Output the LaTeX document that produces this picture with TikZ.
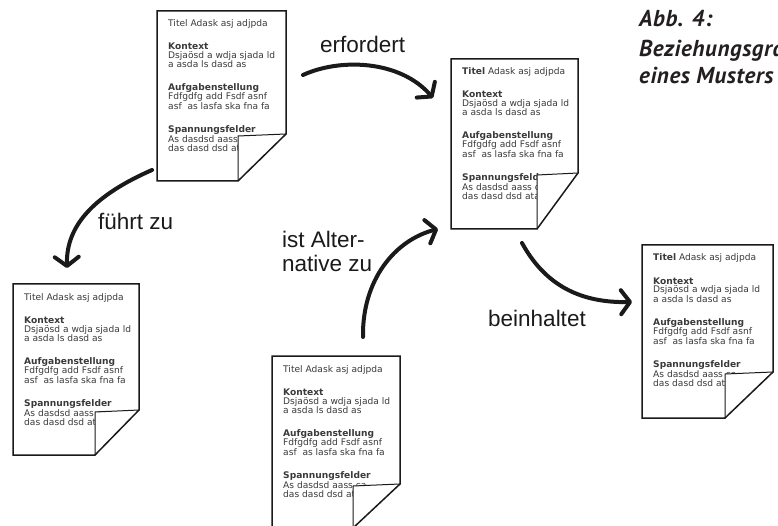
\documentclass[tikz,border=0pt]{standalone}
\usepackage{fontspec}
\setmainfont{Liberation Sans}
\newfontfamily\docfont{DejaVu Sans}
\newfontfamily\capfont[LetterSpace=2.5]{PT Sans}
\usetikzlibrary{arrows.meta}

\definecolor{ink}{HTML}{1A1A1A}
\definecolor{doctextgray}{HTML}{3A3A3A}
\definecolor{captiongray}{HTML}{231F20}

\tikzset{
  docarea/.style={rectangle, inner sep=0pt, outer sep=0pt},
  docline/.style={anchor=base west, inner sep=0pt, text=doctextgray,
    font=\docfont\fontsize{9.1}{9}\selectfont},
  dochead/.style={docline, font=\docfont\bfseries\fontsize{9.1}{9}\selectfont},
  pagefill/.style={fill=white},
  pageedge/.style={draw=ink, line width=1.5pt, line join=miter},
  flapedge/.style={draw=ink, line width=1pt, line cap=round},
  relation/.style={draw=ink, line width=4pt, line cap=round,
    -{Straight Barb[length=9pt,width=24pt,line cap=round,line join=round]}},
  rellabel/.style={anchor=base west, inner sep=0pt, text=ink,
    font=\fontsize{22.5}{24}\selectfont},
  captionline/.style={anchor=base west, inner sep=0pt, text=captiongray,
    font=\capfont\bfseries\itshape\fontsize{23}{28}\selectfont},
}

% A pattern sheet with a dog-eared lower right corner.
% #1 name, #2/#3 top left corner, #4/#5 width/height, #6/#7 fold size, #8 title word
\newcommand{\pagedoc}[8]{%
  \node[docarea, minimum width=#4pt, minimum height=#5pt, anchor=north west] (#1) at (#2,#3) {};
  \coordinate (#1-fb) at ([yshift=#7pt]#1.south east);
  \coordinate (#1-fc) at ([xshift=-#6pt]#1.south east);
  \coordinate (#1-fa) at ([xshift=-#6pt, yshift=#7pt-2pt]#1.south east);
  \path[pagefill] (#1.north west) -- (#1.north east) -- (#1-fb) -- (#1-fc) -- (#1.south west) -- cycle;
  \node[docline] (#1-l1)  at ([shift={(11,16)}]#1.north west)  {#8 Adask asj adjpda};
  \node[dochead] (#1-l2)  at ([shift={(11,39)}]#1.north west)  {Kontext};
  \node[docline] (#1-l3)  at ([shift={(11,48)}]#1.north west)  {Dsjaösd a wdja sjada ld};
  \node[docline] (#1-l4)  at ([shift={(11,57)}]#1.north west)  {a asda ls dasd as};
  \node[dochead] (#1-l5)  at ([shift={(11,80)}]#1.north west)  {Aufgabenstellung};
  \node[docline] (#1-l6)  at ([shift={(11,89)}]#1.north west)  {Fdfgdfg add Fsdf asnf};
  \node[docline] (#1-l7)  at ([shift={(11,99)}]#1.north west)  {asf\ \ as lasfa ska fna fa};
  \node[dochead] (#1-l8)  at ([shift={(11,122)}]#1.north west) {Spannungsfelder};
  \node[docline] (#1-l9)  at ([shift={(11,132)}]#1.north west) {As dasdsd aass ca};
  \node[docline] (#1-l10) at ([shift={(11,141)}]#1.north west) {das dasd dsd atal};
  \path[pagefill] (#1-fa) -- (#1-fb) -- (#1-fc) -- cycle;
  \path[flapedge] (#1-fb) -- (#1-fa) -- (#1-fc);
  \path[pageedge] (#1.north west) -- (#1.north east) -- (#1-fb) -- (#1-fc) -- (#1.south west) -- cycle;
}

\begin{document}
\begin{tikzpicture}[x=1pt, y=-1pt]
  \useasboundingbox (0,0) rectangle (778,526);
  \fill[white] (0,0) rectangle (778,526);

  % caption
  \node[captionline] (capA) at (639,27) {Abb. 4:};
  \node[captionline] (capB) at (639,57) {Beziehungsgraph};
  \node[captionline] (capC) at (639,84) {eines Musters};

  % pattern sheets
  \pagedoc{docA}{157}{11}{129}{170}{48}{47}{Titel}
  \pagedoc{docB}{451}{59}{127}{170}{41}{56}{\textbf{Titel}}
  \pagedoc{docC}{13}{284}{126}{171}{44}{45}{Titel}
  \pagedoc{docD}{272}{356}{128}{172}{47}{44}{Titel}
  \pagedoc{docE}{642}{245}{131}{173}{48}{46}{\textbf{Titel}}

  % relation arrows
  \coordinate (relAs) at (303,75);  \coordinate (relAe) at (433,98);
  \coordinate (relBs) at (152,170); \coordinate (relBe) at (67,268);
  \coordinate (relCs) at (363,337); \coordinate (relCe) at (438,229);
  \coordinate (relDs) at (522,243); \coordinate (relDe) at (632,302);

  \draw[relation] (relAs) .. controls (340,58) and (400,60) .. (relAe);
  \draw[relation] (relBs) .. controls (95,195) and (66,225) .. (relBe);
  \draw[relation] (relCs) .. controls (362,280) and (395,240) .. (relCe);
  \draw[relation] (relDs) .. controls (545,285) and (580,303) .. (relDe);

  % relation labels
  \node[rellabel] (lblA)  at (320,53)  {erfordert};
  \node[rellabel] (lblB)  at (98,230)  {führt zu};
  \node[rellabel] (lblC1) at (282,248) {ist Alter-};
  \node[rellabel] (lblC2) at (282,272) {native zu};
  \node[rellabel] (lblD)  at (488,326) {beinhaltet};
\end{tikzpicture}
\end{document}
